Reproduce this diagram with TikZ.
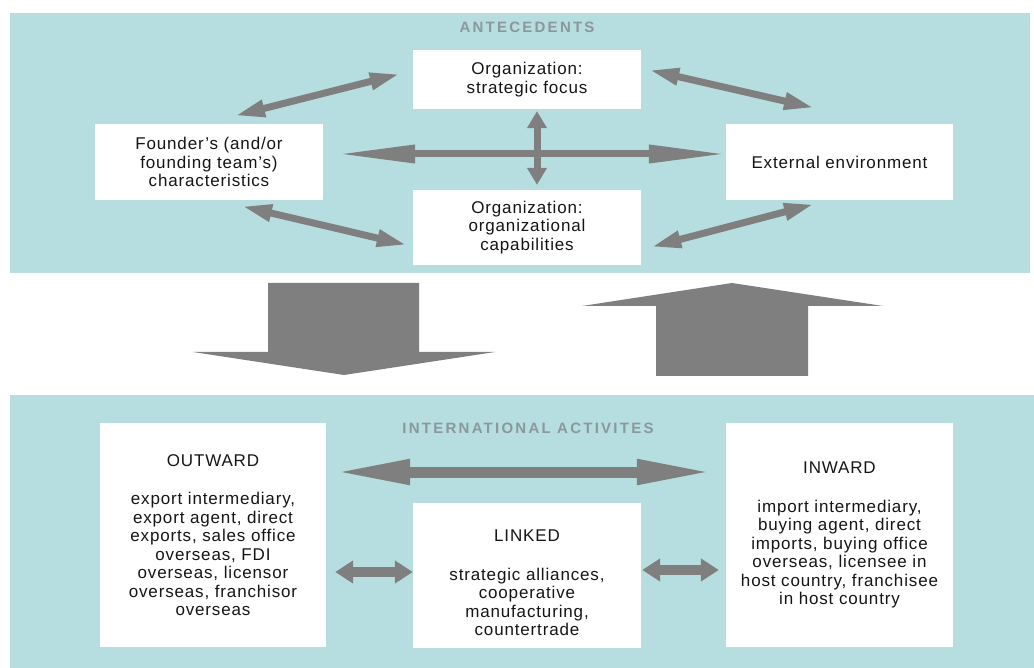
\documentclass[tikz,border=0pt]{standalone}
\usepackage{fontspec}
\setmainfont[LetterSpace=5]{Liberation Sans}
\newfontfamily\titlefont[LetterSpace=15]{Liberation Sans}
\usetikzlibrary{arrows.meta,calc}
\definecolor{panel}{HTML}{B6DEE1}
\definecolor{agrey}{HTML}{7F7F7F}
\definecolor{tgrey}{HTML}{8A989C}
\definecolor{txt}{HTML}{151515}
\tikzset{
  box/.style={fill=white, draw=none, inner sep=0pt, align=center, text=txt,
    font=\fontsize{17}{18.5}\selectfont},
  ttl/.style={text=tgrey, font=\titlefont\bfseries\fontsize{15}{18}\selectfont, inner sep=0pt},
  darr/.style={draw=agrey, line width=7pt, {Triangle[length=30pt,width=16pt]}-{Triangle[length=30pt,width=16pt]}},
  harr/.style={draw=agrey, line width=7pt, {Triangle[length=78pt,width=17pt]}-{Triangle[length=78pt,width=17pt]}},
  varr/.style={draw=agrey, line width=7pt, {Triangle[length=17pt,width=19pt]}-{Triangle[length=17pt,width=19pt]}},
  bigarr/.style={draw=agrey, line width=11pt, {Triangle[length=77pt,width=23pt]}-{Triangle[length=77pt,width=23pt]}},
  smarr/.style={draw=agrey, line width=10pt, {Triangle[length=18pt,width=22pt]}-{Triangle[length=18pt,width=22pt]}},
  block/.style={fill=agrey, draw=none}
}
\begin{document}
\begin{tikzpicture}[x=1pt,y=-1pt]
\useasboundingbox (0,0) rectangle (1034,668);
\fill[white] (0,0) rectangle (1034,668);
% panels
\fill[panel] (10,13) rectangle (1030,273);
\fill[panel] (10,395) rectangle (1034,668);
\node[ttl] (antec) at (527,27) {ANTECEDENTS};
\node[ttl] (intl) at (528,428) {INTERNATIONAL ACTIVITES};
% top boxes
\node[box, minimum width=228pt, minimum height=59pt] (focus) at (527,79.5) {Organization:\\strategic focus};
\node[box, minimum width=228pt, minimum height=76pt] (founder) at (209,162) {Founder's (and/or\\founding team's)\\characteristics};
\node[box, minimum width=228pt, minimum height=75pt] (capab) at (527,227.5) {Organization:\\organizational\\capabilities};
\node[box, minimum width=227pt, minimum height=76pt] (extern) at (839.5,162) {External environment};
% top arrows
\draw[darr] ([shift={(26,-8)}]founder.north) -- ([shift={(-13,-5.5)}]focus.west);
\draw[darr] ([shift={(33,6)}]founder.south) -- ([shift={(-6,17.5)}]capab.west);
\draw[darr] ([shift={(8,-9.5)}]focus.east) -- ([shift={(-25.5,-16)}]extern.north);
\draw[darr] ([shift={(10,19.5)}]capab.east) -- ([shift={(-25.5,4)}]extern.south);
\draw[harr] ([shift={(14,-8)}]founder.east) -- ([shift={(1,-8)}]extern.west);
\draw[varr] ([shift={(10,2)}]focus.south) -- ([shift={(10,-5)}]capab.north);
% block arrows
\fill[block] (268,283) -- (419,283) -- (419,352) -- (495,352) -- (344,375) -- (193,352) -- (268,352) -- cycle;
\fill[block] (732,283) -- (883,306) -- (808,306) -- (808,376) -- (656,376) -- (656,306) -- (582,306) -- cycle;
% bottom boxes
\node[box, minimum width=226pt, minimum height=224pt] (outward) at (213,535) {OUTWARD\\[20pt]export intermediary,\\export agent, direct\\exports, sales office\\overseas, FDI\\overseas, licensor\\overseas, franchisor\\overseas};
\node[box, minimum width=228pt, minimum height=145pt] (linked) at (527,575.5) {};
\node[box, fill=none] (linkedtext) at (527,583) {LINKED\\[20pt]strategic alliances,\\cooperative\\manufacturing,\\countertrade};
\node[box, minimum width=227pt, minimum height=224pt] (inward) at (839.5,535) {INWARD\\[20pt]import intermediary,\\buying agent, direct\\imports, buying office\\overseas, licensee in\\host country, franchisee\\in host country};
% bottom arrows
\draw[bigarr] ([shift={(7,-63)}]outward.east) -- ([shift={(-12,-63)}]inward.west);
\draw[smarr] ([shift={(9,37)}]outward.east) -- ([shift={(0,-3.5)}]linked.west);
\draw[smarr] ([shift={(1,-5.5)}]linked.east) -- ([shift={(-7,35)}]inward.west);
\end{tikzpicture}
\end{document}
